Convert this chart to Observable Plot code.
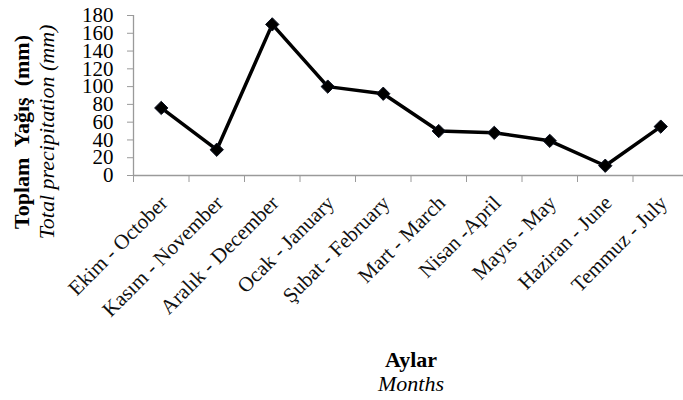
<!DOCTYPE html>
<html>
<head>
<meta charset="utf-8">
<script src="https://cdn.jsdelivr.net/npm/d3@7"></script>
<script src="https://cdn.jsdelivr.net/npm/@observablehq/plot@0.6"></script>
<style>
  body { margin: 0; background: #fff; }
  #chart svg { display: block; }
</style>
</head>
<body>
<div id="chart"></div>
<script>
const months = ["Ekim - October", "Kasım - November", "Aralık - December", "Ocak - January",
  "Şubat - February", "Mart - March", "Nisan -April", "Mayıs - May", "Haziran - June", "Temmuz - July"];
const precipitation = [76, 29, 170, 100, 92, 50, 48, 39, 11, 55];
const yTicks = [0, 20, 40, 60, 80, 100, 120, 140, 160, 180];
const yTitle = "Toplam  Yağış  (mm)";
const yTitleEn = "Total precipitation (mm)";
const xTitle = "Aylar";
const xTitleEn = "Months";

const data = months.map((m, i) => ({month: m, pos: i + 0.5, value: precipitation[i]}));
const boundaries = d3.range(0, months.length + 1);
const axisColor = "#9a9a9a";
const font = "'Liberation Serif', 'Times New Roman', serif";

const chart = Plot.plot({
  width: 683,
  height: 400,
  marginLeft: 133,
  marginRight: -5,
  marginTop: 15,
  marginBottom: 225,
  style: {fontFamily: font, background: "#fff", color: "#000", overflow: "visible"},
  x: {type: "linear", domain: [0, months.length]},
  y: {domain: [0, 180]},
  marks: [
    Plot.axisY({ticks: yTicks, tickSize: 6, tickPadding: 14, fontSize: 21, stroke: axisColor, color: "#000", label: null}),
    Plot.axisX({ticks: boundaries, tickSize: 7, tickFormat: () => "", stroke: axisColor, label: null}),
    Plot.ruleX([0], {y1: 0, y2: 180, stroke: axisColor, strokeWidth: 1.3}),
    Plot.ruleY([0], {stroke: axisColor, strokeWidth: 1.3}),
    Plot.text(data, {x: "pos", y: 0, text: "month", rotate: -45, textAnchor: "end",
      fontSize: 21, fill: "#111", dx: 3, dy: 24}),
    Plot.line(data, {x: "pos", y: "value", stroke: "#000", strokeWidth: 3.5}),
    Plot.dot(data, {x: "pos", y: "value", symbol: "diamond2", r: 6, fill: "#000", stroke: "#0a1020", strokeWidth: 1})
  ]
});

const svg = d3.select(chart);
svg.append("text")
  .attr("transform", "translate(29,132) rotate(-90)")
  .attr("text-anchor", "middle")
  .style("font-family", font).style("font-size", "22px").style("font-weight", "bold")
  .style("white-space", "pre").attr("xml:space", "preserve")
  .text(yTitle);
svg.append("text")
  .attr("transform", "translate(54,132) rotate(-90)")
  .attr("text-anchor", "middle")
  .style("font-family", font).style("font-size", "22px").style("font-style", "italic")
  .text(yTitleEn);
svg.append("text")
  .attr("x", 411).attr("y", 367)
  .attr("text-anchor", "middle")
  .style("font-family", font).style("font-size", "22px").style("font-weight", "bold")
  .text(xTitle);
svg.append("text")
  .attr("x", 411).attr("y", 391)
  .attr("text-anchor", "middle")
  .style("font-family", font).style("font-size", "22px").style("font-style", "italic")
  .text(xTitleEn);

document.getElementById("chart").appendChild(chart);
</script>
</body>
</html>
